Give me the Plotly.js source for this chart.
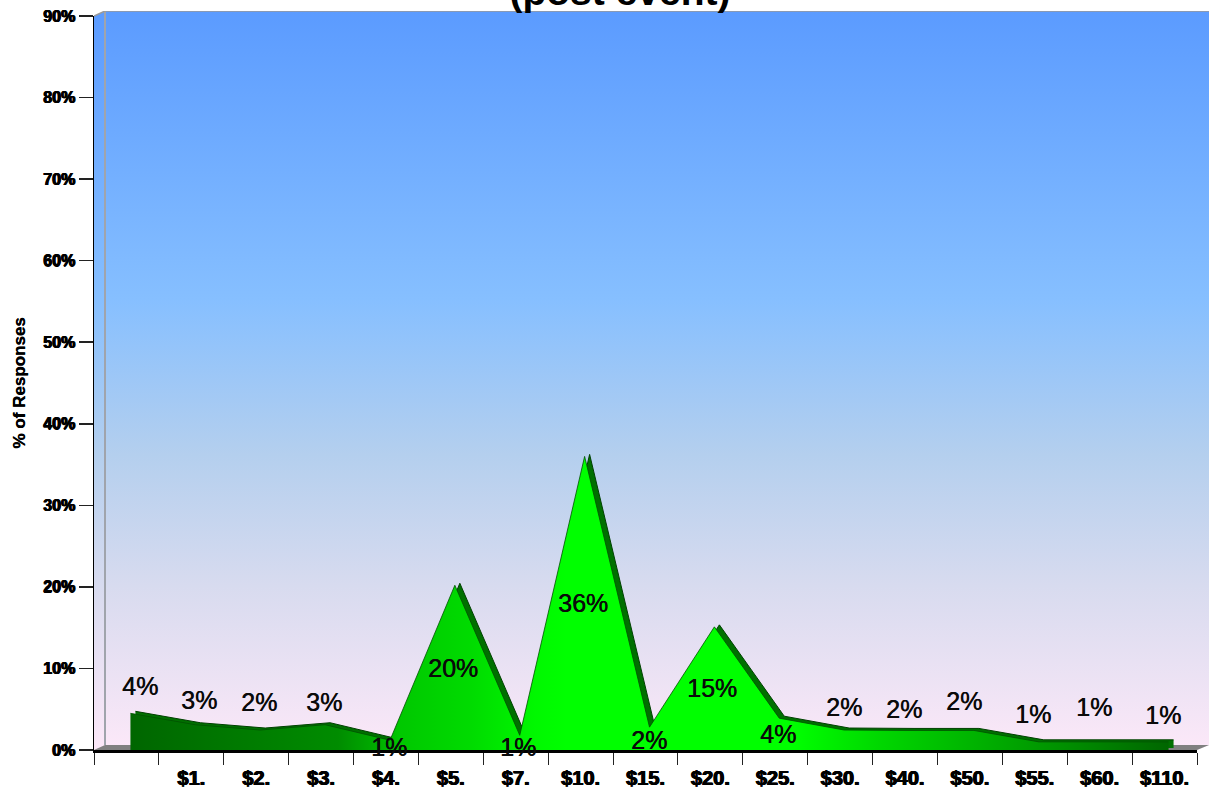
<!DOCTYPE html>
<html>
<head>
<meta charset="utf-8">
<script src="https://cdn.plot.ly/plotly-3.0.1.min.js"></script>
<style>html,body{margin:0;padding:0;background:#fff}#c{width:1209px;height:791px}</style>
</head>
<body>
<div id="c"></div>
<script>
const categories = [" ","$1.","$2.","$3.","$4.","$5.","$7.","$10.","$15.","$20.","$25.","$30.","$40.","$50.","$55.","$60.","$110."];
const values = [4.5,3.1,2.45,3.1,1.2,20.2,1.8,36,2.8,15.1,3.9,2.45,2.4,2.4,1.0,1.0,1.0];
const labels = ["4%","3%","2%","3%","1%","20%","1%","36%","2%","15%","4%","2%","2%","2%","1%","1%","1%"];
// label placement, in pixels relative to the tick-axis category centre and the zero line
const labelDx = [14,8,3,3,3,2,2,2,3,2,3,4,-1,-6,-2,-6,-2];
const labelUp = [64,50,48,48,3,82,3,147,10,62,16,43,41,49,36,43,35];
const yTicks = [0,10,20,30,40,50,60,70,80,90];
const yTickText = yTicks.map(v => v + "%");

const W = 1209, H = 791, L = 94, T = 11, B = 750, R = 1209;
const PW = R - L, PH = B - T, AXW = 1103, AXH = 734;
const xDom = dx => [dx / PW, (dx + AXW) / PW];
const yDom = dy => [dy / PH, (dy + AXH) / PH];

const wallX = [94,94,105,1209,1209,1197,94];
const wallY = [750,16,11,11,745,750,750];
const floorX = [94,105,1209,1197,94];
const floorY = [750,745,745,750,750];
const wallStops = [[0,'#FCE8F8'],[0.22,'#D8DBEF'],[0.4,'#B4CFEE'],[0.61,'#86BFFF'],[1,'#5B9BFF']];
const frontStops = [[0,'#006600'],[0.2,'#008C00'],[0.24,'#00B000'],[0.26,'#00C800'],[0.33,'#00DC00'],[0.39,'#00F8F0'.slice(0,5)+'00'],[0.42,'#00FF00'],[0.64,'#00FF00'],[0.72,'#00D800'],[0.84,'#00A800'],[1,'#006600']];

const traces = [
  {x:wallX,y:wallY,xaxis:'x',yaxis:'y',mode:'lines',line:{width:0},fill:'toself',hoverinfo:'skip',showlegend:false,
   fillgradient:{type:'vertical',colorscale:wallStops}},
  {x:floorX,y:floorY,xaxis:'x',yaxis:'y',mode:'lines',line:{width:0},fill:'toself',fillcolor:'#808080',hoverinfo:'skip',showlegend:false},
  {x:[105,105],y:[745,11],xaxis:'x',yaxis:'y',mode:'lines',line:{color:'#A0A4AC',width:2},hoverinfo:'skip',showlegend:false},
  {x:[94,105,1209],y:[16,11,11],xaxis:'x',yaxis:'y',mode:'lines',line:{color:'#9A9A9A',width:1.5},hoverinfo:'skip',showlegend:false},
  // depth ribbon of the area
  {x:categories,y:values,xaxis:'x2',yaxis:'y2',mode:'lines',fill:'tozeroy',fillcolor:'#007000',
   line:{color:'#004000',width:1},hoverinfo:'skip',showlegend:false},
  // front face of the area
  {x:categories,y:values,xaxis:'x3',yaxis:'y3',mode:'lines',fill:'tozeroy',
   fillgradient:{type:'horizontal',colorscale:frontStops},
   line:{color:'#005000',width:0.8},showlegend:false,name:'% of Responses'},
  // carries the visible category axis
  {x:categories,y:values,xaxis:'x4',yaxis:'y3',mode:'lines',line:{width:0},hoverinfo:'skip',showlegend:false}
];

const heavy = '0.6px 0 0 #000, -0.6px 0 0 #000, 0 0.3px 0 #000';
const yTickFont = {family:'"Liberation Sans"',size:16,color:'#000',weight:'bold',shadow:heavy};
const xTickFont = {family:'"Liberation Sans"',size:20,color:'#000',weight:'bold',shadow:heavy};
const hiddenAxis = {visible:false,showgrid:false,zeroline:false,fixedrange:true};
const catAxis = {type:'category',categoryorder:'array',categoryarray:categories,range:[-0.5,16.5]};

const layout = {
  width:W,height:H,showlegend:false,
  paper_bgcolor:'#fff',plot_bgcolor:'rgba(0,0,0,0)',
  margin:{l:L,r:W-R,t:T,b:H-B,pad:0},
  title:{text:'<b>(post event)</b>',font:{family:'"Liberation Sans"',size:39,color:'#000'},
         xref:'paper',x:(620-L)/PW,xanchor:'center',yref:'container',y:1-5/H,yanchor:'bottom'},
  xaxis:Object.assign({},hiddenAxis,{domain:[0,1],range:[L,R]}),
  yaxis:Object.assign({},hiddenAxis,{domain:[0,1],range:[B,T]}),
  xaxis2:Object.assign({},hiddenAxis,catAxis,{domain:xDom(9),anchor:'y2'}),
  yaxis2:Object.assign({},hiddenAxis,{domain:yDom(2),range:[0,90],anchor:'x2'}),
  xaxis3:Object.assign({},hiddenAxis,catAxis,{domain:xDom(4),anchor:'y3'}),
  yaxis3:{domain:yDom(0),range:[0,90],anchor:'x4',tickmode:'array',tickvals:yTicks,ticktext:yTickText,
          tickfont:yTickFont,ticks:'outside',ticklen:14,tickwidth:1.5,tickcolor:'#222',
          showgrid:false,zeroline:false,showline:true,linecolor:'#000',linewidth:1.5,fixedrange:true,
          title:{text:'<b>% of Responses</b>',font:{family:'"Liberation Sans"',size:17,color:'#000',shadow:'0.4px 0 0 #000'},standoff:13}},
  xaxis4:Object.assign({},catAxis,{domain:xDom(0),anchor:'y3',tickson:'boundaries',ticks:'outside',ticklen:12,tickwidth:1,tickcolor:'#222',
          ticklabelstandoff:8,tickfont:xTickFont,tickangle:0,showgrid:false,zeroline:false,showline:true,linecolor:'#000',linewidth:3,fixedrange:true}),
  annotations:labels.map((t,i)=>({text:t,x:categories[i],y:0,xref:'x4',yref:'y3',showarrow:false,
      xshift:labelDx[i],yshift:labelUp[i],xanchor:'center',yanchor:'middle',
      font:{family:'"Liberation Sans"',size:25,color:'#0a0a0a',shadow:'0.5px 0 0 #0a0a0a'}}))
};
Plotly.newPlot('c',traces,layout,{displayModeBar:false,staticPlot:true});
</script>
</body>
</html>
